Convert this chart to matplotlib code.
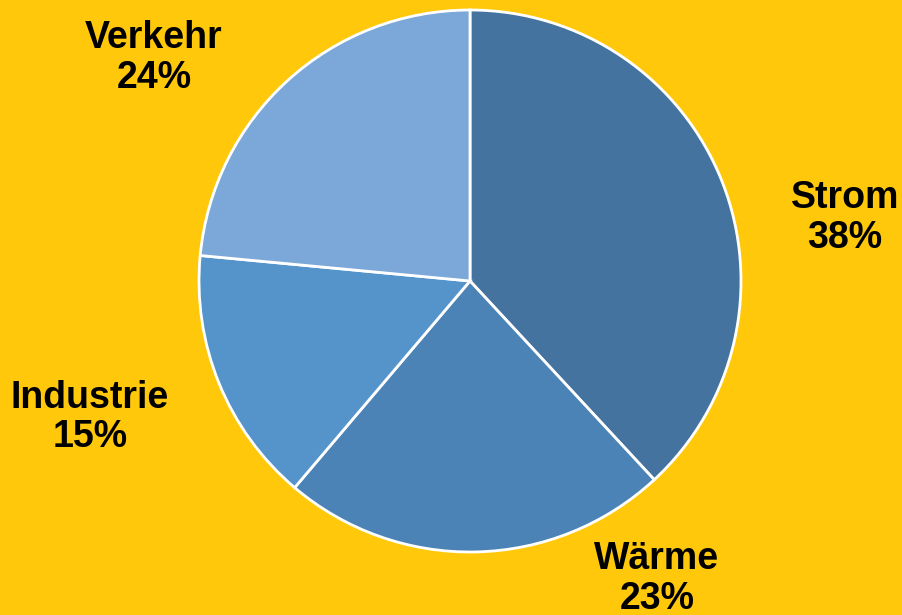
import matplotlib.pyplot as plt

# shares of energy use
labels = ['Strom', 'Wärme', 'Industrie', 'Verkehr']
values = [38.1, 23.1, 15.3, 23.5]
colors = ['#44739F', '#4B83B7', '#5594CB', '#7BA8D9']

# label positions (in units of the pie radius)
label_x = [1.384, 0.690, -1.402, -1.166]
label_y = [0.232, -1.100, -0.504, 0.822]

bg = '#FFC80A'

fig = plt.figure(figsize=(9.02, 6.15), dpi=100)
fig.patch.set_facecolor(bg)
ax = fig.add_axes([0, 0, 1, 1])
ax.set_facecolor(bg)

ax.pie(values, colors=colors, startangle=90, counterclock=False, radius=1.0,
       wedgeprops=dict(edgecolor='white', linewidth=2.0))

for lab, v, x, y in zip(labels, values, label_x, label_y):
    ax.text(x, y, f'{lab}\n{v:.0f}%', ha='center', va='center', fontsize=27,
            fontweight='bold', family='Liberation Sans', linespacing=1.13)

ax.set_aspect('auto')
ax.set_xlim(-470 / 271, 432 / 271)
ax.set_ylim(-334 / 271, 281 / 271)
ax.axis('off')

fig.savefig('out.png', dpi=100, facecolor=bg)
